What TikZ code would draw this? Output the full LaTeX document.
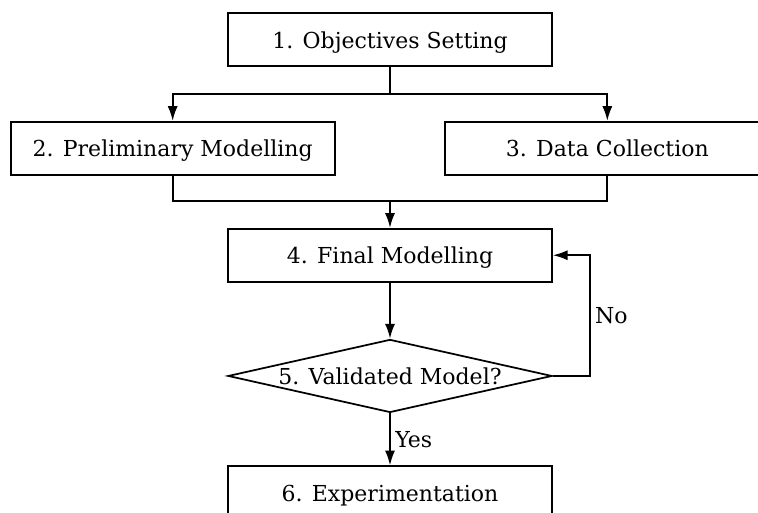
\documentclass[tikz,border=0pt]{standalone}
\usepackage{fontspec}
\setmainfont{DejaVu Serif}
\usetikzlibrary{positioning,shapes.geometric,arrows.meta}
\begin{document}
\begin{tikzpicture}
    \tikzset{step box/.style={draw,line width=1.3pt,minimum width=243pt,minimum height=39.75pt,text height=14pt,text depth=1pt,font=\fontsize{16.5pt}{20pt}\selectfont},
    check/.style={draw,line width=1.3pt,diamond,inner sep=0pt,minimum width=243pt,minimum height=54.75pt,font=\fontsize{16.5pt}{20pt}\selectfont},
    flow/.style={->,>={Latex[length=11pt,width=7.5pt]},line width=1.3pt}}
    \useasboundingbox (0,0) rectangle (568.5pt,-384.75pt);
    \node[step box] (obj) at (292.5pt,-29.625pt) {1. Objectives Setting};%start
    \node[step box] (pre) [below=40.5pt of obj,xshift=-163pt] {2. Preliminary Modelling};
    \node[step box] (data) [below=40.5pt of obj,xshift=163pt] {3. Data Collection};
    \node[step box] (fin) [below=120.75pt of obj] {4. Final Modelling};
    \node[check] (val) [below=42pt of fin] {\makebox[0pt]{5. Validated Model?}};%decision
    \node[step box] (exp) [below=39pt of val] {6. Experimentation};

    \draw[flow] (obj.south) -- ++(0,-20.25pt) -| (pre.north);
    \draw[flow] (obj.south) -- ++(0,-20.25pt) -| (data.north);
    \draw[flow] (pre.south) |- ([yshift=20.25pt]fin.north) -- (fin.north);
    \draw[line width=1.3pt] (data.south) |- ([yshift=20.25pt]fin.north);
    \draw[flow] (fin) -- (val);
    \draw[flow] (val.east) -- ++(27.75pt,0) |- node[right,pos=0.25,font=\fontsize{16.5pt}{20pt}\selectfont] {No} (fin.east);
    \draw[flow] (val) -- node[right,font=\fontsize{16.5pt}{20pt}\selectfont] {Yes} (exp);
\end{tikzpicture}
\end{document}
